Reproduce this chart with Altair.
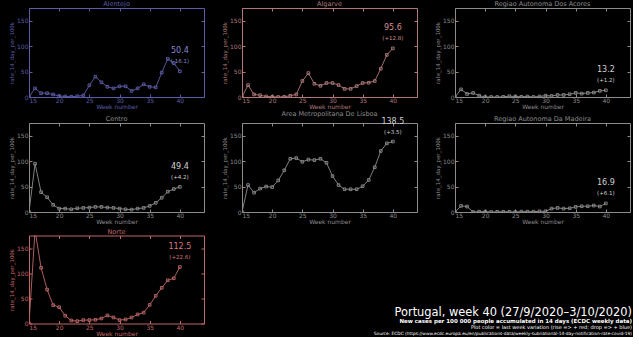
import altair as alt
import pandas as pd

weeks = list(range(15, 41))

names = ["Alentejo", "Algarve", "Regiao Autonoma Dos Acores",
         "Centro", "Area Metropolitana De Lisboa", "Regiao Autonoma Da Madeira",
         "Norte"]

alentejo = [0, 17, 7.5, 7.5, 5, 2, 1, 0.5, 1.5, 3, 23, 40, 29, 20, 17, 21, 21, 12, 17, 25, 20, 19, 48, 75, 66.5, 50.4]
algarve = [0, 23.5, 5, 3.5, 1, 0.5, 0, 0.5, 2.5, 5, 31.5, 47, 26, 22, 27.5, 27.5, 23.5, 16, 16, 21.5, 27.5, 28, 31.5, 55.7, 82.8, 95.6]
acores = [0, 15, 6, 8, 2.7, 0, 0, 0, 0.5, 1.5, 1, 0.5, 1, 0, 1, 2.7, 2, 4, 4, 5.4, 8, 6.7, 8, 8.7, 12.0, 13.2]
centro = [0, 95, 39, 29, 14, 6.7, 6.7, 5.3, 7.3, 8, 8.7, 10, 10, 8.7, 8, 6.7, 5.3, 4.7, 6.7, 8, 12, 18, 28, 40, 45.2, 49.4]
lisboa = [0, 53, 38, 46, 50, 49, 62, 82, 104.7, 106, 98.7, 103, 102, 104.7, 96.7, 70.7, 53, 44.7, 44.7, 44.7, 50.7, 63, 88, 120, 135, 138.5]
madeira = [0, 12, 10.7, 0, 0.7, 0.7, 0, 0.3, 0.5, 0.3, 0, 0.7, 0.7, 0.7, 1.3, 1.3, 6.7, 8, 6.7, 7.3, 10, 11.3, 11.3, 12.7, 10.8, 16.9]
norte = [0, 185, 111, 67.5, 36.5, 32.4, 15.5, 6, 4.7, 6.8, 6.8, 7.4, 10, 16, 12, 6.8, 8, 12, 18, 21.6, 37, 55, 71, 86, 89.9, 112.5]

series = [alentejo, algarve, acores, centro, lisboa, madeira, norte]
changes = ["(-16.1)", "(+12.8)", "(+1.2)", "(+4.2)", "(+3.5)", "(+6.1)", "(+22.6)"]

blue = "#5c5ca8"
pink = "#b07a7a"
grey = "#8c8c8c"
red = "#c06868"
colors = [blue, pink, grey, grey, grey, grey, red]
text_colors = ["#8888d0", "#d09090", "#d0d0d0", "#d0d0d0", "#d0d0d0", "#d0d0d0", "#d87878"]

x_ticks = [15, 20, 25, 30, 35, 40]
y_ticks = [0, 50, 100, 150]

title_main = "Portugal, week 40 (27/9/2020\u20133/10/2020)"
subtitle1 = "New cases per 100 000 people accumulated in 14 days (ECDC weekly data)"
subtitle2 = "Plot color = last week variation (rise => + red; drop => + blue)"
source = "Source: ECDC (https://www.ecdc.europa.eu/en/publications-data/weekly-subnational-14-day-notification-rate-covid-19)"

FONT = "DejaVu Sans"
W, H = 175, 89


def panel(name, values, change, color, tcolor, h=H):
    df = pd.DataFrame({"week": weeks, "rate": values})
    last = df.tail(1).assign(val=f"{values[-1]:.1f}", chg=change)
    xs = alt.Scale(domain=[15, 44], nice=False, zero=False)
    ys = alt.Scale(domain=[0, 175], nice=False, zero=False)
    x = alt.X("week:Q", scale=xs, axis=alt.Axis(
        orient="bottom", values=x_ticks, title="Week number", offset=-3, tickSize=3,
        domain=False, tickColor=color, labelColor=color, titleColor=color,
        labelFontSize=6, titleFontSize=6, labelPadding=0.5, titlePadding=0, grid=False,
        labelFont=FONT, titleFont=FONT, titleFontWeight="normal", format="d"))
    y = alt.Y("rate:Q", scale=ys, axis=alt.Axis(
        orient="left", values=y_ticks, title="rate_14_day_per_100k", offset=-3,
        tickSize=3, domain=False, tickColor=color, labelColor=color,
        titleColor=color, labelFontSize=6, titleFontSize=5.5, labelPadding=1,
        titlePadding=2, grid=False, labelFont=FONT, titleFont=FONT,
        titleFontWeight="normal", format="d"))
    xt = alt.X("week:Q", scale=xs, axis=alt.Axis(
        orient="top", values=x_ticks, labels=False, domain=False, offset=-3,
        tickSize=3, tickColor=color, title="", grid=False))
    yt = alt.Y("rate:Q", scale=ys, axis=alt.Axis(
        orient="right", values=y_ticks, labels=False, domain=False, offset=-3,
        tickSize=3, tickColor=color, title="", grid=False))
    base = alt.Chart(df)
    line = base.mark_line(color=color, strokeWidth=0.9, clip=True).encode(x=x, y=y)
    pts = base.mark_point(shape="square", size=7, color=color, filled=False,
                          strokeWidth=0.9, clip=True, opacity=1).encode(x=x, y=y)
    lab = alt.Chart(last).mark_text(dy=-20, fontSize=8, color=tcolor, font=FONT).encode(
        x=x, y=y, text="val:N")
    chg = alt.Chart(last).mark_text(dy=-10, fontSize=5.5, color=tcolor, font=FONT).encode(
        x=x, y=y, text="chg:N")
    main = alt.layer(line, pts, lab, chg)
    frame = base.mark_point(opacity=0, clip=True).encode(x=xt, y=yt)
    return alt.layer(main, frame).resolve_axis(x="independent", y="independent").properties(
        width=W, height=h,
        title=alt.TitleParams(name, color=color, fontSize=6.5, font=FONT,
                              fontWeight="normal", offset=0),
        view=alt.ViewBackground(stroke=color, strokeWidth=1),
    )


panels = [panel(n, s, c, col, tc, (88 if n == "Norte" else H))
          for n, s, c, col, tc in zip(names, series, changes, colors, text_colors)]

TW = 390
txt_base = alt.Chart(pd.DataFrame({"k": [0]}))
t1 = txt_base.mark_text(text=title_main, fontSize=11.4, color="white", font=FONT,
                        align="right", baseline="alphabetic").encode(
    x=alt.value(TW), y=alt.value(80))
t2 = txt_base.mark_text(text=subtitle1, fontSize=5.5, fontWeight="bold", color="white",
                        font=FONT, align="right", baseline="alphabetic").encode(
    x=alt.value(TW), y=alt.value(87))
t3 = txt_base.mark_text(text=subtitle2, fontSize=5, color="white", font=FONT,
                        align="right", baseline="alphabetic").encode(
    x=alt.value(TW), y=alt.value(93))
t4 = txt_base.mark_text(text=source, fontSize=4.35, color="white", font=FONT,
                        align="right", baseline="alphabetic").encode(
    x=alt.value(TW), y=alt.value(99.5))
text_panel = alt.layer(t1, t2, t3, t4).properties(
    width=TW, height=88, view=alt.ViewBackground(stroke="transparent"))

row1 = alt.hconcat(panels[0], panels[1], panels[2], spacing=38, bounds="flush")
row2 = alt.hconcat(panels[3], panels[4], panels[5], spacing=38, bounds="flush")
row3 = alt.hconcat(panels[6], text_panel, spacing=38, bounds="flush")

top_rows = alt.vconcat(row1, row2, spacing=0)
chart = alt.vconcat(top_rows, row3, spacing=2.5).properties(
    padding={"left": 9, "top": 0, "right": 0, "bottom": 0}
).configure(background="black")

chart.save("out.html", embed_options={"renderer": "svg", "actions": False})
